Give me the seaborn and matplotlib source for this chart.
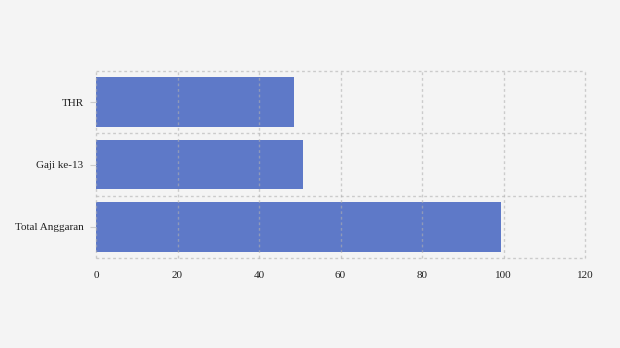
import matplotlib
matplotlib.use("Agg")
import matplotlib.pyplot as plt
import seaborn as sns
import pandas as pd
from matplotlib.ticker import FixedLocator

categories = ["THR", "Gaji ke-13", "Total Anggaran"]
values = [48.6, 50.8, 99.4]
x_ticks = [0, 20, 40, 60, 80, 100, 120]

df = pd.DataFrame({"kategori": categories, "nilai": values})

sns.set_theme(style="white")
plt.rcParams["font.family"] = ["Liberation Serif", "DejaVu Serif"]

bg = "#f4f4f4"
fig = plt.figure(figsize=(6.2, 3.48), dpi=100, facecolor=bg)
ax = fig.add_axes([96 / 620, 1 - 258 / 348, (585 - 96) / 620, (258 - 71) / 348])
ax.set_facecolor(bg)

sns.barplot(data=df, x="nilai", y="kategori", orient="h", color="#5e79c8",
            saturation=1, width=0.8, linewidth=0, ax=ax, zorder=2)

ax.set_xlim(0, 120)
ax.set_ylim(2.5, -0.5)
ax.set_xticks(x_ticks)
ax.set_xticklabels([str(t) for t in x_ticks])
ax.yaxis.set_minor_locator(FixedLocator([-0.5, 0.5, 1.5, 2.5]))

grid_kw = dict(color="#b0b0b0", linestyle=(0, (2, 2)), linewidth=1.0, alpha=0.6, zorder=3)
ax.grid(False)
ax.set_axisbelow(False)
ax.xaxis.grid(True, which="major", **grid_kw)
ax.yaxis.grid(True, which="minor", **grid_kw)
for t in ax.xaxis.get_major_ticks():
    t.gridline.set_clip_on(False)
for t in ax.yaxis.get_minor_ticks():
    t.gridline.set_clip_on(False)

for s in ax.spines.values():
    s.set_visible(False)

ax.set_xlabel("")
ax.set_ylabel("")
ax.tick_params(axis="x", which="both", length=0, pad=9, labelsize=8.0, colors="#222222")
ax.tick_params(axis="y", which="major", length=4, width=0.8, color="#cccccc",
               pad=5, labelsize=8.0, labelcolor="#222222", left=True)
ax.tick_params(axis="y", which="minor", length=0)

fig.savefig("out.png", dpi=100, facecolor=bg)
